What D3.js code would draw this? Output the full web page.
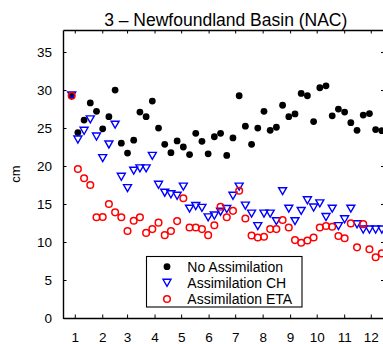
<!DOCTYPE html>
<html>
<head>
<meta charset="utf-8">
<script src="https://cdn.jsdelivr.net/npm/d3@7"></script>
<style>
  body { margin: 0; background: #fff; }
  svg { display: block; }
  text { font-family: "Liberation Sans", Arial, Helvetica, sans-serif; fill: #000; }
</style>
</head>
<body>
<svg id="chart" width="383" height="344"></svg>
<script>
// Weekly sea-level variability, Newfoundland Basin (NAC)
const chartTitle = "3 \u2013 Newfoundland Basin (NAC)";
const yLabel = "cm";
const monthLabels = [1, 2, 3, 4, 5, 6, 7, 8, 9, 10, 11, 12];
const monthStartDay = [0, 31, 59, 90, 120, 151, 181, 212, 243, 273, 304, 334];
const yTicks = [0, 5, 10, 15, 20, 25, 30, 35];
const seriesNames = ["No Assimilation", "Assimilation CH", "Assimilation ETA"];

// centre day of each weekly sample
const sampleDay = [-3.5, 3.5, 10.5, 17.5, 24.5, 31.5, 38.5, 45.5, 52.5, 59.5,
  66.5, 73.5, 80.5, 87.5, 94.5, 101.5, 108.5, 115.5, 122.5, 129.5,
  136.5, 143.5, 150.5, 157.5, 164.5, 171.5, 178.5, 185.5, 192.5, 199.5,
  206.5, 213.5, 220.5, 227.5, 234.5, 241.5, 248.5, 255.5, 262.5, 269.5,
  276.5, 283.5, 290.5, 297.5, 304.5, 311.5, 318.5, 325.5, 332.5, 339.5, 346.5];

const noAssimilation = [29.25, 24.4, 26.05, 28.3, 27.2, 24.9, 26.5, 30.0, 23.0, 21.7,
  23.4, 27.1, 26.5, 28.55, 25.0, 22.85, 21.75, 23.3, 22.5, 21.5,
  24.3, 23.25, 21.6, 23.85, 24.3, 21.4, 23.7, 29.25, 25.25, 22.85,
  25.0, 27.2, 24.7, 25.1, 28.0, 26.5, 26.85, 29.55, 29.25, 25.85,
  30.3, 30.55, 26.6, 27.5, 27.1, 25.7, 24.7, 26.7, 26.9, 24.8, 24.65];

const assimilationCH = [29.3, 23.5, 24.65, 26.15, 23.9, 21.05, 22.85, 25.45, 18.6, 17.1,
  19.4, 19.7, 19.7, 21.35, 17.55, 16.5, 16.3, 16.1, 17.3, 14.4,
  14.75, 14.5, 13.25, 13.5, 14.0, 14.35, 16.1, 17.3, 14.8, 13.75,
  12.1, 13.75, 13.75, 12.75, 16.7, 14.4, 12.75, 14.1, 15.5, 14.55,
  15.1, 13.3, 14.4, 12.1, 13.0, 14.4, 12.35, 11.65, 11.65, 11.65, 11.65];

const assimilationETA = [29.25, 19.6, 18.4, 17.5, 13.25, 13.3, 15.0, 13.9, 13.25, 11.45,
  12.8, 13.25, 11.2, 11.7, 12.55, 10.9, 11.45, 12.75, 15.75, 11.9,
  11.9, 11.7, 10.9, 12.2, 14.65, 13.25, 14.1, 16.75, 13.1, 10.85,
  10.6, 10.7, 11.7, 11.7, 12.9, 11.9, 10.25, 9.9, 10.2, 10.6,
  11.9, 12.1, 12.0, 10.8, 10.5, 12.45, 9.3, 12.35, 9.05, 8.0, 8.5];

const svg = d3.select("#chart");
const plot = { left: 63, right: 384.5, top: 30, bottom: 318 };

const x = d3.scaleLinear().domain([-13.3, 349.5]).range([plot.left, plot.right]);
const y = d3.scaleLinear().domain([0, 37.9]).range([plot.bottom, plot.top]);

svg.append("defs").append("clipPath").attr("id", "plotClip")
  .append("rect")
  .attr("x", plot.left).attr("y", plot.top)
  .attr("width", plot.right - plot.left).attr("height", plot.bottom - plot.top);

// axes: ticks point inward on all four sides
const tickLen = 3.5;
function styleAxis(g) {
  g.select(".domain").attr("stroke", "#000").attr("stroke-width", 1.4);
  g.selectAll(".tick line").attr("stroke", "#000").attr("stroke-width", 1);
  g.selectAll(".tick text").attr("font-size", 13.5);
}
svg.append("g").attr("transform", `translate(0,${plot.bottom})`)
  .call(d3.axisBottom(x).tickValues(monthStartDay)
    .tickFormat((d, i) => monthLabels[i])
    .tickSizeInner(-tickLen).tickSizeOuter(0).tickPadding(14))
  .call(styleAxis);
svg.append("g").attr("transform", `translate(0,${plot.top})`)
  .call(d3.axisTop(x).tickValues(monthStartDay).tickFormat("")
    .tickSizeInner(-tickLen).tickSizeOuter(0))
  .call(styleAxis);
svg.append("g").attr("transform", `translate(${plot.left},0)`)
  .call(d3.axisLeft(y).tickValues(yTicks)
    .tickSizeInner(-tickLen).tickSizeOuter(0).tickPadding(11))
  .call(styleAxis);
svg.append("g").attr("transform", `translate(${plot.right},0)`)
  .call(d3.axisRight(y).tickValues(yTicks).tickFormat("")
    .tickSizeInner(-tickLen).tickSizeOuter(0))
  .call(styleAxis);

// title and y label
svg.append("text")
  .attr("x", (plot.left + plot.right) / 2 + 2).attr("y", 26)
  .attr("text-anchor", "middle").attr("font-size", 17.5)
  .text(chartTitle);
svg.append("text")
  .attr("transform", `translate(19.5,${(plot.top + plot.bottom) / 2}) rotate(-90)`)
  .attr("text-anchor", "middle").attr("font-size", 13)
  .text(yLabel);

// markers
const triPath = "M-4,-3.4L4,-3.4L0,3.6Z";
const marks = svg.append("g").attr("clip-path", "url(#plotClip)");

marks.append("g").selectAll("circle")
  .data(noAssimilation)
  .join("circle")
  .attr("cx", (d, i) => x(sampleDay[i])).attr("cy", d => y(d))
  .attr("r", 3.4).attr("fill", "#000");

marks.append("g").selectAll("path")
  .data(assimilationCH)
  .join("path")
  .attr("transform", (d, i) => `translate(${x(sampleDay[i])},${y(d)})`)
  .attr("d", triPath)
  .attr("fill", "none").attr("stroke", "#0000ff").attr("stroke-width", 1.4);

marks.append("g").selectAll("circle")
  .data(assimilationETA)
  .join("circle")
  .attr("cx", (d, i) => x(sampleDay[i])).attr("cy", d => y(d))
  .attr("r", 3.3)
  .attr("fill", "none").attr("stroke", "#ff0000").attr("stroke-width", 1.5);

// legend
const lg = svg.append("g");
lg.append("rect")
  .attr("x", 146.5).attr("y", 256.5).attr("width", 155.5).attr("height", 50.5)
  .attr("fill", "#fff").attr("stroke", "#000").attr("stroke-width", 1.1);
const rowY = [266.7, 282.7, 299];
const mx = 167;
lg.append("circle").attr("cx", mx).attr("cy", rowY[0]).attr("r", 3.4).attr("fill", "#000");
lg.append("path").attr("transform", `translate(${mx},${rowY[1]})`).attr("d", triPath)
  .attr("fill", "none").attr("stroke", "#0000ff").attr("stroke-width", 1.4);
lg.append("circle").attr("cx", mx).attr("cy", rowY[2]).attr("r", 3.3)
  .attr("fill", "none").attr("stroke", "#ff0000").attr("stroke-width", 1.5);
lg.selectAll("text.entry")
  .data(seriesNames)
  .join("text")
  .attr("class", "entry")
  .attr("x", 187.3).attr("y", (d, i) => rowY[i]).attr("dy", "0.36em")
  .attr("font-size", 14)
  .text(d => d);
</script>
</body>
</html>
